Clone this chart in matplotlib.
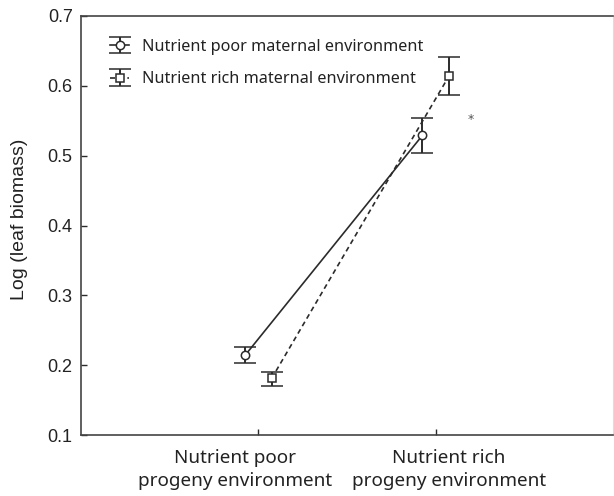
import matplotlib
matplotlib.use("Agg")
import matplotlib.pyplot as plt
import matplotlib.transforms as mtransforms
import numpy as np

# Progeny environment categories (x axis)
progeny_labels = ["Nutrient poor\nprogeny environment", "Nutrient rich\nprogeny environment"]

# Mean log leaf biomass and error bar limits per maternal environment
poor_maternal_mean = [0.214, 0.529]
poor_maternal_low = [0.203, 0.504]
poor_maternal_high = [0.226, 0.554]

rich_maternal_mean = [0.181, 0.614]
rich_maternal_low = [0.170, 0.587]
rich_maternal_high = [0.190, 0.641]

series_labels = ["Nutrient poor maternal environment", "Nutrient rich maternal environment"]

# Significance marker (x category index, y value)
star_pos = (2.2, 0.552)

ink = "#2b2b2b"
tick_font = "Liberation Sans"
text_font = ["Noto Sans", "DejaVu Sans"]

fig = plt.figure(figsize=(6.14, 4.96), dpi=100)
ax = fig.add_axes([81 / 614, 61 / 496, 532 / 614, 419 / 496])

x = np.array([1, 2])
off = 0.075

common = dict(color=ink, lw=1.2, mfc="white", mec=ink, mew=1.1,
              capsize=8, capthick=1.4, elinewidth=1.4)

pm = np.array(poor_maternal_mean)
h1 = ax.errorbar(x - off, pm,
                 yerr=[pm - np.array(poor_maternal_low), np.array(poor_maternal_high) - pm],
                 ls="-", marker="o", ms=6, label=series_labels[0], **common)
rm = np.array(rich_maternal_mean)
h2 = ax.errorbar(x + off, rm,
                 yerr=[rm - np.array(rich_maternal_low), np.array(rich_maternal_high) - rm],
                 ls=(0, (3, 2.2)), marker="s", ms=5.5, label=series_labels[1], **common)

ax.text(star_pos[0], star_pos[1], "*", ha="center", va="center", fontsize=9, color="#555555")

ax.set_xlim(0, 3)
ax.set_ylim(0.1, 0.7)
ax.set_xticks(x)
ax.set_xticklabels(progeny_labels, fontsize=13.6, family=text_font, color="#222222",
                   linespacing=1.35)
ax.set_yticks(np.arange(0.1, 0.71, 0.1))
ax.set_yticklabels([f"{v:.1f}" for v in np.arange(0.1, 0.71, 0.1)],
                   fontsize=13, family=tick_font, color="#222222")
ax.tick_params(axis="both", direction="in", length=4, color=ink, width=1)
ax.tick_params(axis="x", pad=10)
ax.tick_params(axis="y", pad=6)
ax.set_ylabel("Log (leaf biomass)", fontsize=14, family=tick_font, color="#222222")
ax.yaxis.set_label_coords(-0.10, 0.515)

# the two category captions sit slightly apart from their ticks
for lbl, dx in zip(ax.get_xticklabels(), [-23, 13]):
    lbl.set_transform(lbl.get_transform() +
                      mtransforms.ScaledTranslation(dx / 100, 0, fig.dpi_scale_trans))

for side in ["left", "bottom", "top"]:
    ax.spines[side].set_color("#444444")
    ax.spines[side].set_linewidth(1.2)
ax.spines["right"].set_color("#dddddd")
ax.spines["right"].set_linewidth(0.8)

leg = ax.legend(handles=[h1, h2], loc="upper left", bbox_to_anchor=(0.027, 0.98),
                frameon=False, prop={"family": text_font, "size": 11.7},
                handlelength=1.2, handletextpad=0.8, labelspacing=1.0)
for t in leg.get_texts():
    t.set_color("#222222")

fig.savefig("out.png", dpi=100)
